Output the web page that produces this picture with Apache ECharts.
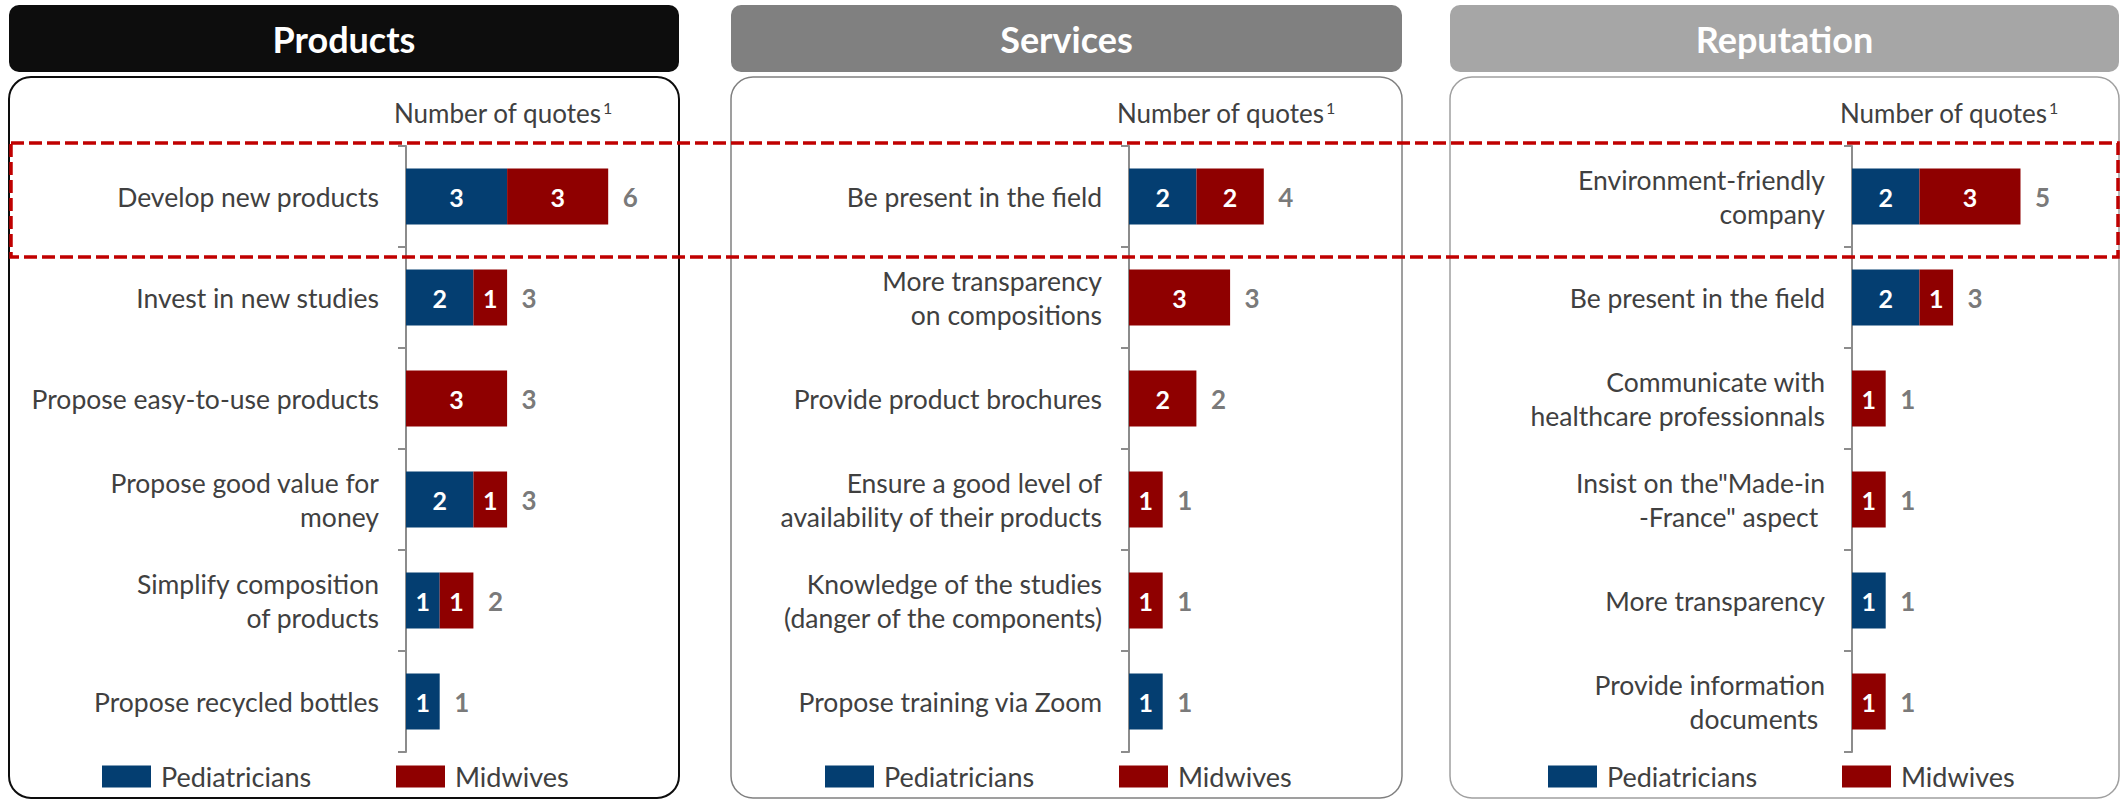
<!DOCTYPE html>
<html>
<head>
<meta charset="utf-8">
<script src="https://cdn.jsdelivr.net/npm/echarts@6/dist/echarts.min.js"></script>
<style>
  html, body { margin: 0; padding: 0; background: #ffffff; }
  #chart { width: 2123px; height: 800px; }
</style>
</head>
<body>
<div id="chart"></div>
<script>
// ---------------- data ----------------
const panelTitles = ['Products', 'Services', 'Reputation'];
const seriesNames = ['Pediatricians', 'Midwives'];

const productsCategories = [
  'Develop new products',
  'Invest in new studies',
  'Propose easy-to-use products',
  'Propose good value for\nmoney',
  'Simplify composition\nof products',
  'Propose recycled bottles'
];
const productsPediatricians = [3, 2, 0, 2, 1, 1];
const productsMidwives      = [3, 1, 3, 1, 1, 0];
const productsTotals        = [6, 3, 3, 3, 2, 1];

const servicesCategories = [
  'Be present in the field',
  'More transparency\non compositions',
  'Provide product brochures',
  'Ensure a good level of\navailability of their products',
  'Knowledge of the studies\n(danger of the components)',
  'Propose training via Zoom'
];
const servicesPediatricians = [2, 0, 0, 0, 0, 1];
const servicesMidwives      = [2, 3, 2, 1, 1, 0];
const servicesTotals        = [4, 3, 2, 1, 1, 1];

const reputationCategories = [
  'Environment-friendly\ncompany',
  'Be present in the field',
  'Communicate with\nhealthcare professionnals',
  'Insist on the"Made-in\n-France" aspect ',
  'More transparency',
  'Provide information\ndocuments '
];
const reputationPediatricians = [2, 2, 0, 0, 1, 0];
const reputationMidwives      = [3, 1, 1, 1, 0, 1];
const reputationTotals        = [5, 3, 1, 1, 1, 1];

const axisTitle = 'Number of quotes';
const axisTitleNote = '1';

// ---------------- layout / style ----------------
const FONT = 'Lato';
const BLUE = '#043e71';
const RED = '#8f0000';
const panels = [
  { cats: productsCategories, ped: productsPediatricians, mid: productsMidwives, tot: productsTotals },
  { cats: servicesCategories, ped: servicesPediatricians, mid: servicesMidwives, tot: servicesTotals },
  { cats: reputationCategories, ped: reputationPediatricians, mid: reputationMidwives, tot: reputationTotals }
];
const panelLeft  = [9, 731, 1450];
const panelWidth = [670, 671, 669];
const axisX      = [406, 1129, 1852];
const headerFill = ['#0d0d0d', '#808080', '#a6a6a6'];
const panelStroke = ['#0d0d0d', '#808080', '#a0a0a0'];
const panelStrokeW = [2, 1.5, 1.5];

const gridTop = 146, gridHeight = 606, unitPx = 33.7, xMax = 7;

const grids = [], xAxes = [], yAxes = [], series = [], legends = [], graphics = [];

panels.forEach((p, i) => {
  grids.push({ left: axisX[i], top: gridTop, width: unitPx * xMax, height: gridHeight, containLabel: false });
  xAxes.push({ type: 'value', gridIndex: i, min: 0, max: xMax, show: false });
  yAxes.push({
    type: 'category', gridIndex: i, data: p.cats, inverse: true,
    axisLine: { show: true, lineStyle: { color: '#8c8c8c', width: 2 } },
    axisTick: { show: true, length: 8, lineStyle: { color: '#8c8c8c', width: 2 } },
    axisLabel: { fontFamily: FONT, fontSize: 26.5, color: '#404040', margin: 27, lineHeight: 34 },
    splitLine: { show: false }
  });
  const inLabel = {
    show: true, position: 'inside', color: '#ffffff', fontFamily: FONT,
    fontWeight: 'bold', fontSize: 25,
    formatter: (d) => (d.value ? String(d.value) : '')
  };
  series.push({
    type: 'bar', name: seriesNames[0], xAxisIndex: i, yAxisIndex: i, stack: 'st' + i,
    data: p.ped, barWidth: 56, itemStyle: { color: BLUE }, label: inLabel, silent: true
  });
  series.push({
    type: 'bar', name: seriesNames[1], xAxisIndex: i, yAxisIndex: i, stack: 'st' + i,
    data: p.mid, barWidth: 56, itemStyle: { color: RED }, label: inLabel, silent: true
  });
  series.push({
    type: 'scatter', name: 'Total', xAxisIndex: i, yAxisIndex: i,
    data: p.tot.map((v, k) => [v, p.cats[k]]),
    symbolSize: 1, itemStyle: { color: 'rgba(0,0,0,0)' }, silent: true,
    label: {
      show: true, position: 'right', distance: 14, color: '#555555',
      fontFamily: FONT, fontWeight: 'bold', fontSize: 26,
      formatter: (d) => String(d.value[0])
    }
  });
  const legText = { fontFamily: FONT, fontSize: 27, color: '#404040', lineHeight: 22, padding: [0, 0, 0, 5] };
  legends.push({
    data: [seriesNames[0]], left: axisX[i] - 304, top: 763, padding: 0,
    icon: 'rect', itemWidth: 49, itemHeight: 22, textStyle: legText, selectedMode: false
  });
  legends.push({
    data: [seriesNames[1]], left: axisX[i] - 10, top: 763, padding: 0,
    icon: 'rect', itemWidth: 49, itemHeight: 22, textStyle: legText, selectedMode: false
  });

  // header box
  graphics.push({
    type: 'rect', silent: true,
    shape: { x: panelLeft[i], y: 5, width: panelWidth[i], height: 67, r: 10 },
    style: { fill: headerFill[i] }
  });
  graphics.push({
    type: 'text', silent: true, z: 10,
    style: {
      text: panelTitles[i], x: panelLeft[i] + panelWidth[i] / 2, y: 39,
      align: 'center', verticalAlign: 'middle',
      fill: '#ffffff', font: 'bold 36px Lato'
    }
  });
  // panel frame
  graphics.push({
    type: 'rect', silent: true,
    shape: { x: panelLeft[i], y: 77, width: panelWidth[i], height: 721, r: 22 },
    style: { fill: 'none', stroke: panelStroke[i], lineWidth: panelStrokeW[i] }
  });
  // axis title with superscript note
  graphics.push({
    type: 'text', silent: true,
    style: {
      text: '{a|' + axisTitle + '}{s|' + axisTitleNote + '}',
      x: axisX[i] - 12, y: 113,
      align: 'left', verticalAlign: 'middle',
      fill: '#404040',
      rich: {
        a: { fontFamily: FONT, fontSize: 26, fill: '#404040', lineHeight: 30, verticalAlign: 'middle' },
        s: { fontFamily: FONT, fontSize: 16, fill: '#404040', lineHeight: 30, verticalAlign: 'top', padding: [1, 0, 0, 1] }
      }
    }
  });
});

// highlighted first row (dashed red frame)
graphics.push({
  type: 'rect', silent: true, z: 100,
  shape: { x: 11, y: 143, width: 2107, height: 114 },
  style: { fill: 'none', stroke: '#c00000', lineWidth: 3.5, lineDash: [13, 5] }
});

const chart = echarts.init(document.getElementById('chart'), null, { renderer: 'svg' });
chart.setOption({
  backgroundColor: '#ffffff',
  animation: false,
  grid: grids,
  xAxis: xAxes,
  yAxis: yAxes,
  legend: legends,
  series: series,
  graphic: graphics
});
</script>
</body>
</html>
